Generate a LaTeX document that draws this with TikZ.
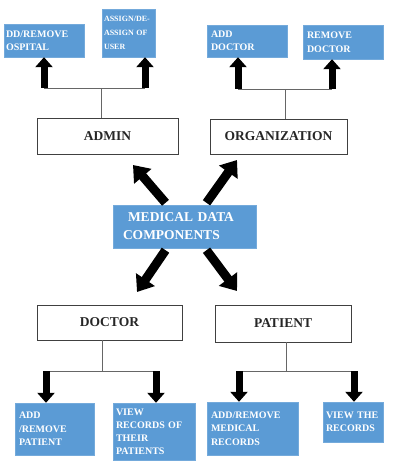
\documentclass[tikz,border=0pt]{standalone}
\usepackage{fontspec}
\setmainfont{Liberation Serif}
\usetikzlibrary{arrows.meta,calc}
\definecolor{boxblue}{RGB}{91,155,213}
\begin{document}
\begin{tikzpicture}[x=1pt,y=-1pt,
  bluebox/.style={fill=boxblue, draw=boxblue!85!white, line width=0.4pt, text=white,
    font=\bfseries\fontsize{10}{13.5}\selectfont, align=left, inner xsep=4pt, inner ysep=0pt},
  whitebox/.style={draw=black!75, line width=0.8pt, fill=white,
    font=\bfseries\fontsize{13.5}{15}\selectfont, text=black!85, inner sep=0pt},
  link/.style={draw=black!60, line width=0.8pt},
  treearrow/.style={line width=7pt, -{Triangle[width=17pt,length=10pt]}},
  bigarrow/.style={line width=9pt, -{Triangle[width=22pt,length=15pt]}}]
\useasboundingbox (0,0) rectangle (400,462);

% top row
\node[bluebox, inner xsep=2pt, text width=76pt, minimum height=33pt] (hosp) at (44,40.5) {DD/REMOVE\\OSPITAL};
\node[bluebox, font=\bfseries\fontsize{8}{14}\selectfont, inner xsep=2pt, text width=49pt, minimum height=48pt] (assign) at (128.5,33) {ASSIGN/DE-\\ASSIGN OF\\USER};
\node[bluebox, text width=72pt, minimum height=32pt] (adddoc) at (247,41) {ADD\\DOCTOR};
\node[bluebox, text width=72pt, minimum height=34pt] (remdoc) at (343,42) {REMOVE\\DOCTOR};

% white boxes
\node[whitebox, minimum width=141pt, minimum height=36pt] (admin) at (107.5,136) {ADMIN};
\node[whitebox, minimum width=137pt, minimum height=35pt] (org) at (278.5,136.5) {ORGANIZATION};
\node[whitebox, minimum width=145pt, minimum height=35pt] (doctor) at (109.5,322.5) {DOCTOR};
\node[whitebox, minimum width=136pt, minimum height=37pt] (patient) at (283,323.5) {PATIENT};

% centre
\node[bluebox, font=\bfseries\fontsize{13.5}{18}\selectfont, inner xsep=10pt, text width=123pt, minimum height=43pt] (med) at (184.5,226.5) {\hspace{5pt}MEDICAL DATA\\COMPONENTS};

% bottom row
\node[bluebox, text width=71pt, minimum height=52pt] (addpat) at (54.5,429) {ADD\\/REMOVE\\PATIENT};
\node[bluebox, font=\bfseries\fontsize{10}{13}\selectfont, text width=76pt, inner xsep=3pt, minimum height=57pt] (viewrec) at (154,431.5) {VIEW\\RECORDS OF\\THEIR\\PATIENTS};
\node[bluebox, text width=83pt, minimum height=53pt] (addmed) at (252.5,428.5) {ADD/REMOVE\\MEDICAL\\RECORDS};
\node[bluebox, inner xsep=3pt, text width=54pt, minimum height=40pt] (viewthe) at (353,422) {VIEW THE\\RECORDS};

% tree joints
\coordinate (aj) at (101,88);  \coordinate (aL) at (44,88);  \coordinate (aR) at (145,88);
\coordinate (oj) at (285,89);  \coordinate (oL) at (238,89); \coordinate (oR) at (332,89);
\coordinate (dj) at (102,371); \coordinate (dL) at (46,371); \coordinate (dR) at (156,371);
\coordinate (pj) at (286,371); \coordinate (pL) at (239,371); \coordinate (pR) at (354,371);

\draw[link] (admin.north -| aj) -- (aj);
\draw[link] (aL) -- (aR);
\draw[treearrow] (aL) -- (hosp.south -| aL);
\draw[treearrow] (aR) -- (assign.south -| aR);

\draw[link] (org.north -| oj) -- (oj);
\draw[link] (oL) -- (oR);
\draw[treearrow] (oL) -- (adddoc.south -| oL);
\draw[treearrow] (oR) -- (remdoc.south -| oR);

\draw[link] (doctor.south -| dj) -- (dj);
\draw[link] (dL) -- (dR);
\draw[treearrow] (dL) -- (addpat.north -| dL);
\draw[treearrow] (dR) -- (viewrec.north -| dR);

\draw[link] (patient.south -| pj) -- (pj);
\draw[link] (pL) -- (pR);
\draw[treearrow] (pL) -- (addmed.north -| pL);
\draw[treearrow] (pR) -- (viewthe.north -| pR);

% diagonal arrows
\coordinate (tipUL) at (133,165);
\coordinate (tipUR) at (237,160);
\coordinate (tipDL) at (137,292);
\coordinate (tipDR) at (237,291);
\draw[bigarrow] ($(med.north)+(-19,-2)$) -- (tipUL);
\draw[bigarrow] ($(med.north)+(22,-2)$) -- (tipUR);
\draw[bigarrow] ($(med.south)+(-19,2)$) -- (tipDL);
\draw[bigarrow] ($(med.south)+(22,2)$) -- (tipDR);
\end{tikzpicture}
\end{document}
